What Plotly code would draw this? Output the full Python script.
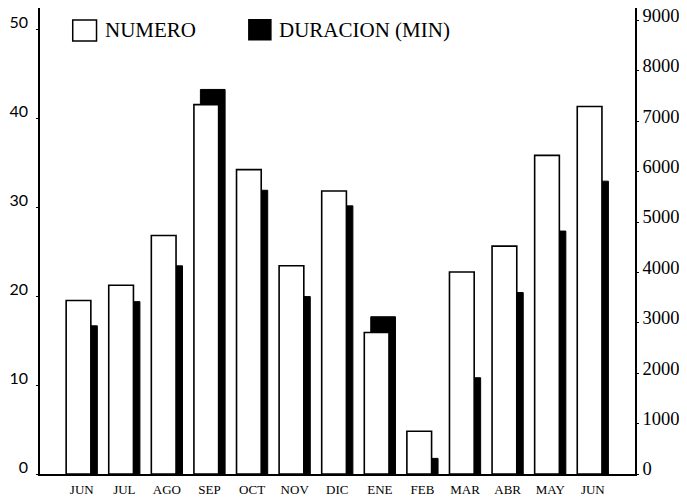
import plotly.graph_objects as go

# months (two JUN: start and end of the period)
months = ["JUN", "JUL", "AGO", "SEP", "OCT", "NOV", "DIC",
          "ENE", "FEB", "MAR", "ABR", "MAY", "JUN"]
# number of events (left axis)
numero = [19.5, 21.2, 26.8, 41.5, 34.2, 23.4, 31.8, 15.9, 4.8, 22.7, 25.6, 35.8, 41.3]
# duration in minutes (right axis)
duracion = [2940, 3420, 4130, 7630, 5630, 3520, 5320, 3120, 310, 1910, 3600, 4820, 5810]

left_ticks = [0, 10, 20, 30, 40, 50]
right_ticks = [0, 1000, 2000, 3000, 4000, 5000, 6000, 7000, 8000, 9000]

xpos = list(range(len(months)))
BAR_W = 0.58

fig = go.Figure()

# black bars on the primary axis so the white ones (overlaying axis) are drawn on top
fig.add_trace(go.Bar(
    x=xpos, y=duracion, name="DURACION (MIN)",
    width=BAR_W, offset=-0.214,
    marker=dict(color="black", line=dict(color="black", width=1)),
    yaxis="y",
))
fig.add_trace(go.Bar(
    x=xpos, y=numero, name="NUMERO",
    width=BAR_W, offset=-0.366,
    marker=dict(color="white", line=dict(color="black", width=1.6)),
    yaxis="y2",
))

# legend drawn by hand: the scanned one has big square swatches
legend_items = [
    dict(name="NUMERO", fill="white", x0=0.055, x1=0.095, y0=0.929, y1=0.974, tx=0.106),
    dict(name="DURACION (MIN)", fill="black", x0=0.351, x1=0.388, y0=0.932, y1=0.975, tx=0.398),
]
for it in legend_items:
    fig.add_shape(type="rect", xref="paper", yref="paper",
                  x0=it["x0"], x1=it["x1"], y0=it["y0"], y1=it["y1"],
                  fillcolor=it["fill"], line=dict(color="black", width=1.5))
    fig.add_annotation(xref="paper", yref="paper", x=it["tx"], y=0.952,
                       xanchor="left", yanchor="middle", showarrow=False,
                       text=it["name"],
                       font=dict(size=21, family="Liberation Serif", color="black"))

# the page body adds an 8px margin, so the figure is 8px smaller than the window
fig.update_layout(
    width=679, height=491,
    margin=dict(l=32, r=52, t=0, b=25, autoexpand=False),
    paper_bgcolor="white",
    plot_bgcolor="white",
    barmode="overlay",
    font=dict(family="Liberation Serif", color="black"),
    showlegend=False,
    xaxis=dict(
        range=[-0.98, 12.99],
        tickvals=xpos, ticktext=months,
        tickfont=dict(size=13, family="Liberation Serif"),
        showgrid=False, zeroline=False, automargin=False,
        showline=True, linecolor="black", linewidth=1.5, mirror=True,
        ticks="", ticklabelstandoff=3,
    ),
    yaxis=dict(
        side="right", range=[0, 9246],
        tickvals=right_ticks,
        tickfont=dict(size=18.5, family="Liberation Serif"),
        showgrid=False, zeroline=False, automargin=False,
        showline=True, linecolor="black", linewidth=1.5,
        ticks="outside", ticklen=2, tickcolor="black",
        ticklabelshift=-5, ticklabeloverflow="allow",
    ),
    yaxis2=dict(
        overlaying="y", side="left", range=[0, 52.36],
        tickvals=left_ticks,
        tickfont=dict(size=16, family="Lato"),
        showgrid=False, zeroline=False, automargin=False,
        showline=True, linecolor="black", linewidth=1.5,
        ticks="outside", ticklen=2, tickcolor="black",
        ticklabelstandoff=5, ticklabelshift=-7, ticklabeloverflow="allow",
    ),
)

fig.write_html("out.html")
